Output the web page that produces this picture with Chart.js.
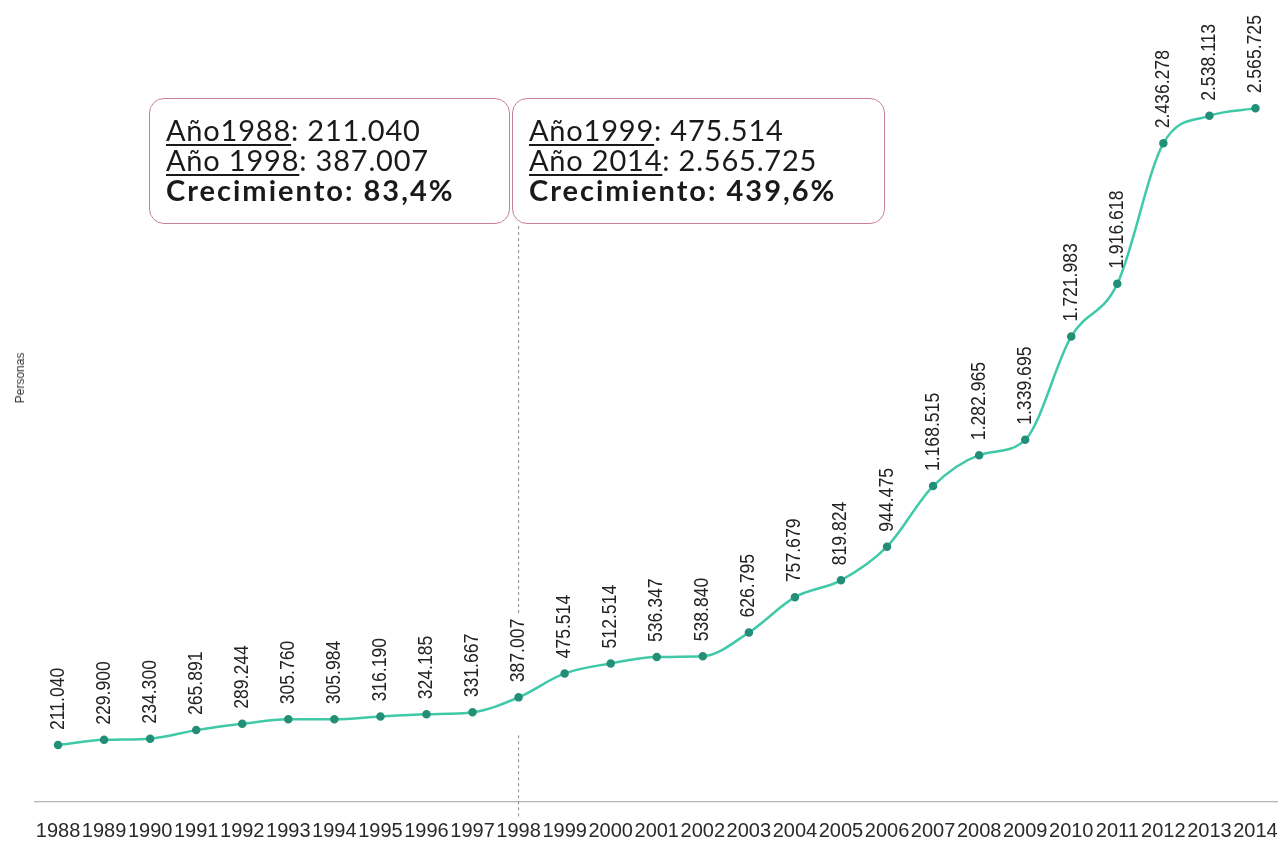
<!DOCTYPE html>
<html>
<head>
<meta charset="utf-8">
<script src="https://cdn.jsdelivr.net/npm/chart.js@4.4.1/dist/chart.umd.min.js"></script>
<style>
  html, body { margin: 0; padding: 0; background: #fff; overflow: hidden; width: 1278px; height: 844px; }
  #wrap { position: absolute; left: 0; top: 0; width: 1284px; height: 844px; }
  .box { position: absolute; top: 98px; height: 126px; border: 1.5px solid #c98193; border-radius: 15px; box-sizing: border-box; font-family: Lato, "Open Sans", sans-serif; color: #1a1a1a; padding: 16px 0 0 16px; background: transparent; }
  .box div { font-size: 29px; line-height: 30px; white-space: nowrap; letter-spacing: 0.8px; }
  .box u { text-decoration-thickness: 1.5px; text-underline-offset: 3px; }
  .box .b { font-weight: bold; font-size: 29px; letter-spacing: 2px; }
  #ylab { position: absolute; left: 20px; top: 378px; transform: translate(-50%, -50%) rotate(-90deg); font-family: "Liberation Sans", Arial, sans-serif; font-size: 12px; color: #333; white-space: nowrap; }
</style>
</head>
<body>
<div id="wrap"><canvas id="c"></canvas></div>
<div class="box" style="left:149px; width:361px;">
  <div><u>Año1988</u>: 211.040</div>
  <div><u>Año 1998</u>: 387.007</div>
  <div class="b">Crecimiento: 83,4%</div>
</div>
<div class="box" style="left:512px; width:373px;">
  <div><u>Año1999</u>: 475.514</div>
  <div><u>Año 2014</u>: 2.565.725</div>
  <div class="b">Crecimiento: 439,6%</div>
</div>
<div id="ylab">Personas</div>
<script>
const years = ["1988","1989","1990","1991","1992","1993","1994","1995","1996","1997","1998","1999","2000","2001","2002","2003","2004","2005","2006","2007","2008","2009","2010","2011","2012","2013","2014"];
const personas = [211040, 229900, 234300, 265891, 289244, 305760, 305984, 316190, 324185, 331667, 387007, 475514, 512514, 536347, 538840, 626795, 757679, 819824, 944475, 1168515, 1282965, 1339695, 1721983, 1916618, 2436278, 2538113, 2565725];
const markerYear = "1998";

function fmt(v) { return String(v).replace(/\B(?=(\d{3})+(?!\d))/g, "."); }

const LABEL_FONT = '20px "Liberation Sans", Arial, sans-serif';
const LABEL_SQUEEZE = 0.88;
const LABEL_GAP = 15;

const valueLabels = {
  id: 'valueLabels',
  afterDatasetsDraw(chart) {
    const ctx = chart.ctx;
    const meta = chart.getDatasetMeta(0);
    ctx.save();
    ctx.font = LABEL_FONT;
    ctx.fillStyle = '#222';
    ctx.textAlign = 'left';
    ctx.textBaseline = 'middle';
    meta.data.forEach((pt, i) => {
      ctx.save();
      ctx.translate(pt.x, pt.y - LABEL_GAP);
      ctx.rotate(-Math.PI / 2);
      ctx.scale(LABEL_SQUEEZE, 1);
      ctx.fillText(fmt(personas[i]), 0, 0);
      ctx.restore();
    });
    ctx.restore();
  }
};

const markerLine = {
  id: 'markerLine',
  afterDraw(chart) {
    const ctx = chart.ctx;
    const idx = years.indexOf(markerYear);
    const pt = chart.getDatasetMeta(0).data[idx];
    const x = pt.x;
    ctx.save();
    ctx.font = LABEL_FONT;
    const w = ctx.measureText(fmt(personas[idx])).width * LABEL_SQUEEZE;
    ctx.strokeStyle = '#8a8a8a';
    ctx.lineWidth = 1;
    ctx.setLineDash([3, 3]);
    ctx.beginPath();
    ctx.moveTo(x, 226);
    ctx.lineTo(x, pt.y - LABEL_GAP - w - 4);
    ctx.moveTo(x, pt.y + 38);
    ctx.lineTo(x, chart.chartArea.bottom + 15);
    ctx.stroke();
    ctx.restore();
  }
};

new Chart(document.getElementById('c'), {
  type: 'line',
  data: {
    labels: years,
    datasets: [{
      data: personas,
      borderColor: '#3fc9a8',
      borderWidth: 2.5,
      pointBackgroundColor: '#238f78',
      pointBorderColor: '#238f78',
      pointRadius: 3,
      pointHoverRadius: 3,
      cubicInterpolationMode: 'monotone',
      fill: false
    }]
  },
  options: {
    responsive: true,
    maintainAspectRatio: false,
    animation: false,
    layout: { padding: { left: 35, right: 0, top: 18, bottom: 0 } },
    plugins: { legend: { display: false }, tooltip: { enabled: false } },
    scales: {
      x: {
        offset: true,
        grid: { display: false, drawTicks: false },
        border: { display: true, color: '#b5b5b5', width: 1.2 },
        afterFit(scale) {
          scale.height = 42;
          scale.paddingLeft = 0;
          scale.paddingRight = 0;
        },
        ticks: {
          padding: 19,
          maxRotation: 0,
          autoSkip: false,
          color: '#2a2a2a',
          font: { family: '"Liberation Sans", Arial, sans-serif', size: 20, lineHeight: 1 }
        }
      },
      y: {
        display: false,
        min: 0,
        max: 2900000
      }
    }
  },
  plugins: [markerLine, valueLabels]
});
</script>
</body>
</html>
